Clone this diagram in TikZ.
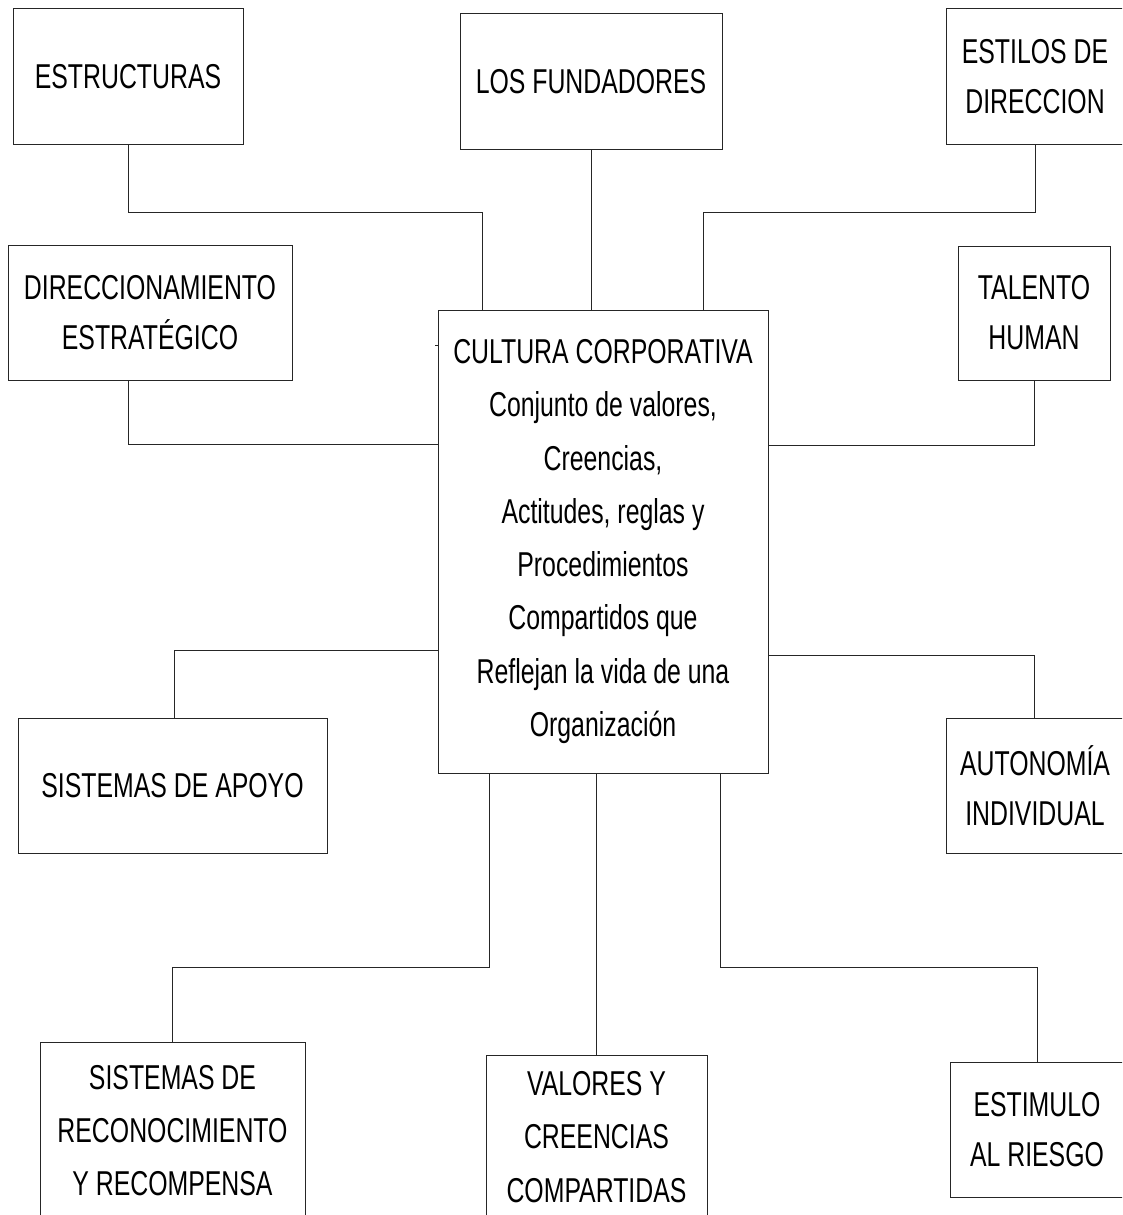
\documentclass[tikz,border=0pt]{standalone}
\usepackage{fontspec}
\setmainfont[FakeStretch=0.72]{Liberation Sans}
\begin{document}
\begin{tikzpicture}[x=1pt,y=-1pt,
  box/.style={draw=black!85,line width=1pt,fill=white,align=center,inner sep=0pt,
    font=\fontsize{34.5}{50}\selectfont},
  conn/.style={draw=black!85,line width=1pt}]
\useasboundingbox (0,0) rectangle (1122,1215);
\clip (0,0) rectangle (1122,1215);
\node[box,minimum width=230pt,minimum height=135pt] (estr) at (128,76.5) {ESTRUCTURAS};
\node[box,minimum width=262pt,minimum height=135pt] (fund) at (591,81.5) {LOS FUNDADORES};
\node[box,minimum width=178pt,minimum height=135pt] (estil) at (1035,76.5) {ESTILOS DE\\DIRECCION};
\node[box,minimum width=284pt,minimum height=135pt] (dir) at (150,312.5) {DIRECCIONAMIENTO\\ESTRATÉGICO};
\node[box,minimum width=152pt,minimum height=134pt] (tal) at (1034,313) {TALENTO\\HUMAN};
\node[box,minimum width=330pt,minimum height=463pt,font=\fontsize{34.5}{53.3}\selectfont] (cult) at (603,541.5)
  {CULTURA CORPORATIVA\\Conjunto de valores,\\Creencias,\\Actitudes, reglas y\\Procedimientos\\Compartidos que\\Reflejan la vida de una\\Organización};
\node[box,minimum width=309pt,minimum height=135pt] (apoyo) at (172.5,785.5) {SISTEMAS DE APOYO};
\node[box,minimum width=178pt,minimum height=135pt] (auto) at (1035,785.5) {AUTONOMÍA\\INDIVIDUAL};
\node[box,minimum width=265pt,minimum height=178pt,font=\fontsize{34.5}{53}\selectfont] (recon) at (172.5,1131) {SISTEMAS DE\\RECONOCIMIENTO\\Y RECOMPENSA};
\node[box,minimum width=221pt,minimum height=164pt,font=\fontsize{34.5}{53.5}\selectfont] (val) at (596.5,1137) {VALORES Y\\CREENCIAS\\COMPARTIDAS};
\node[box,minimum width=174pt,minimum height=135pt] (estim) at (1037,1129.5) {ESTIMULO\\AL RIESGO};
% connectors
\draw[conn] (estr.south) -- ++(0,68) -| ([xshift=45pt]cult.north west);
\draw[conn] (fund.south) -- (fund.south |- cult.north);
\draw[conn] (estil.south) -- ++(0,68) -| ([xshift=-65pt]cult.north east);
\draw[conn] ([xshift=-22pt]dir.south) |- ([yshift=-135pt]cult.north west);
\draw[conn] (tal.south) |- ([yshift=-136pt]cult.north east);
\draw[conn] ([xshift=1.5pt]apoyo.north) |- ([yshift=123pt]cult.south west);
\draw[conn] ([xshift=-1pt]auto.north) |- ([yshift=118pt]cult.south east);
\draw[conn] (recon.north) -- ++(0,-74) -| ([xshift=52pt]cult.south west);
\draw[conn] (val.north) -- (val.north |- cult.south);
\draw[conn] (estim.north) -- ++(0,-94) -| ([xshift=-48pt]cult.south east);
\draw[conn] ([yshift=-36pt]cult.north west) -- ++(-3,0);
\end{tikzpicture}
\end{document}
